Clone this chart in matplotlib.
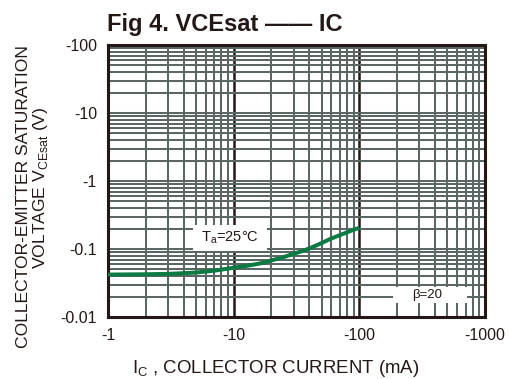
import matplotlib
matplotlib.use("Agg")
import matplotlib.pyplot as plt
from matplotlib.patches import Rectangle
from matplotlib.ticker import FixedLocator, LogLocator, NullFormatter

plt.rcParams['font.family'] = ['Liberation Sans', 'DejaVu Sans']
plt.rcParams['mathtext.fontset'] = 'custom'
plt.rcParams['mathtext.rm'] = 'Liberation Sans'

# Data (magnitudes; axis labels shown negative)
ic_ma = [1, 2, 3, 5, 7, 10, 13, 16, 20, 25, 30, 35, 40, 45, 50, 56, 60, 70, 80, 90, 100]
vce_sat = [0.042, 0.0425, 0.043, 0.045, 0.048, 0.053, 0.057, 0.061, 0.068, 0.076, 0.085,
           0.093, 0.102, 0.112, 0.122, 0.135, 0.143, 0.160, 0.176, 0.192, 0.205]
x_ticks = [1, 10, 100, 1000]
x_tick_labels = ['-1', '-10', '-100', '-1000']
y_ticks = [0.01, 0.1, 1, 10, 100]
y_tick_labels = ['-0.01', '-0.1', '-1', '-10', '-100']

W, H = 509, 379
fig = plt.figure(figsize=(W/100, H/100), dpi=100)
ax = fig.add_axes([108/W, 1-317/H, (485-108)/W, (317-45)/H])
ax.set_xscale('log')
ax.set_yscale('log')
ax.set_xlim(1, 1000)
ax.set_ylim(0.01, 100)

grid_c = '#5b6765'
dark = '#231815'
ax.xaxis.set_minor_locator(LogLocator(base=10, subs=range(2, 10)))
ax.yaxis.set_minor_locator(LogLocator(base=10, subs=range(2, 10)))
ax.xaxis.set_minor_formatter(NullFormatter())
ax.yaxis.set_minor_formatter(NullFormatter())
ax.grid(which='minor', color=grid_c, linewidth=1.45)
ax.grid(which='major', axis='y', color=grid_c, linewidth=1.45)
for xv in [10, 100]:
    ax.axvline(xv, color=dark, linewidth=1.8, zorder=1.5)

ax.xaxis.set_major_locator(FixedLocator(x_ticks))
ax.yaxis.set_major_locator(FixedLocator(y_ticks))
ax.set_xticklabels(x_tick_labels)
ax.set_yticklabels(y_tick_labels)
ax.tick_params(which='both', length=0, labelsize=11.5, colors=dark)
ax.tick_params(axis='x', pad=8)
ax.tick_params(axis='y', pad=8)
for s in ax.spines.values():
    s.set_color(dark)
    s.set_linewidth(2.2)

ax.plot(ic_ma, vce_sat, color='#0b7a43', linewidth=2.9, zorder=4, solid_capstyle='butt')

# label boxes
ax.add_patch(Rectangle((0.225, 0.243), 0.196, 0.094, transform=ax.transAxes,
                       facecolor='white', edgecolor='none', zorder=3))
ax.text(0.324, 0.291, 'T$_\\mathregular{a}$=25°C', transform=ax.transAxes,
        fontsize=10.5, ha='center', va='center', color=dark, zorder=5)
ax.add_patch(Rectangle((0.756, 0.05), 0.195, 0.062, transform=ax.transAxes,
                       facecolor='white', edgecolor='none', zorder=3))
ax.text(0.846, 0.08, 'β=20', transform=ax.transAxes,
        fontsize=9.5, ha='center', va='center', color=dark, zorder=5)

fig.text(107/W, 1-31/H, 'Fig 4. VCEsat —— IC', fontsize=17, fontweight='bold',
         ha='left', va='baseline', color=dark)
fig.text(276/W, 1-373/H, 'I$_\\mathregular{C}$ , COLLECTOR CURRENT (mA)', fontsize=13.4,
         ha='center', va='baseline', color=dark)
fig.text(24/W, 1-197/H, 'COLLECTOR-EMITTER SATURATION', fontsize=12.6, rotation=90,
         ha='center', va='center', color=dark)
fig.text(41/W, 1-188/H, 'VOLTAGE V$_\\mathregular{CEsat}$ (V)', fontsize=12.6, rotation=90,
         ha='center', va='center', color=dark)

fig.savefig('out.png', dpi=100)
